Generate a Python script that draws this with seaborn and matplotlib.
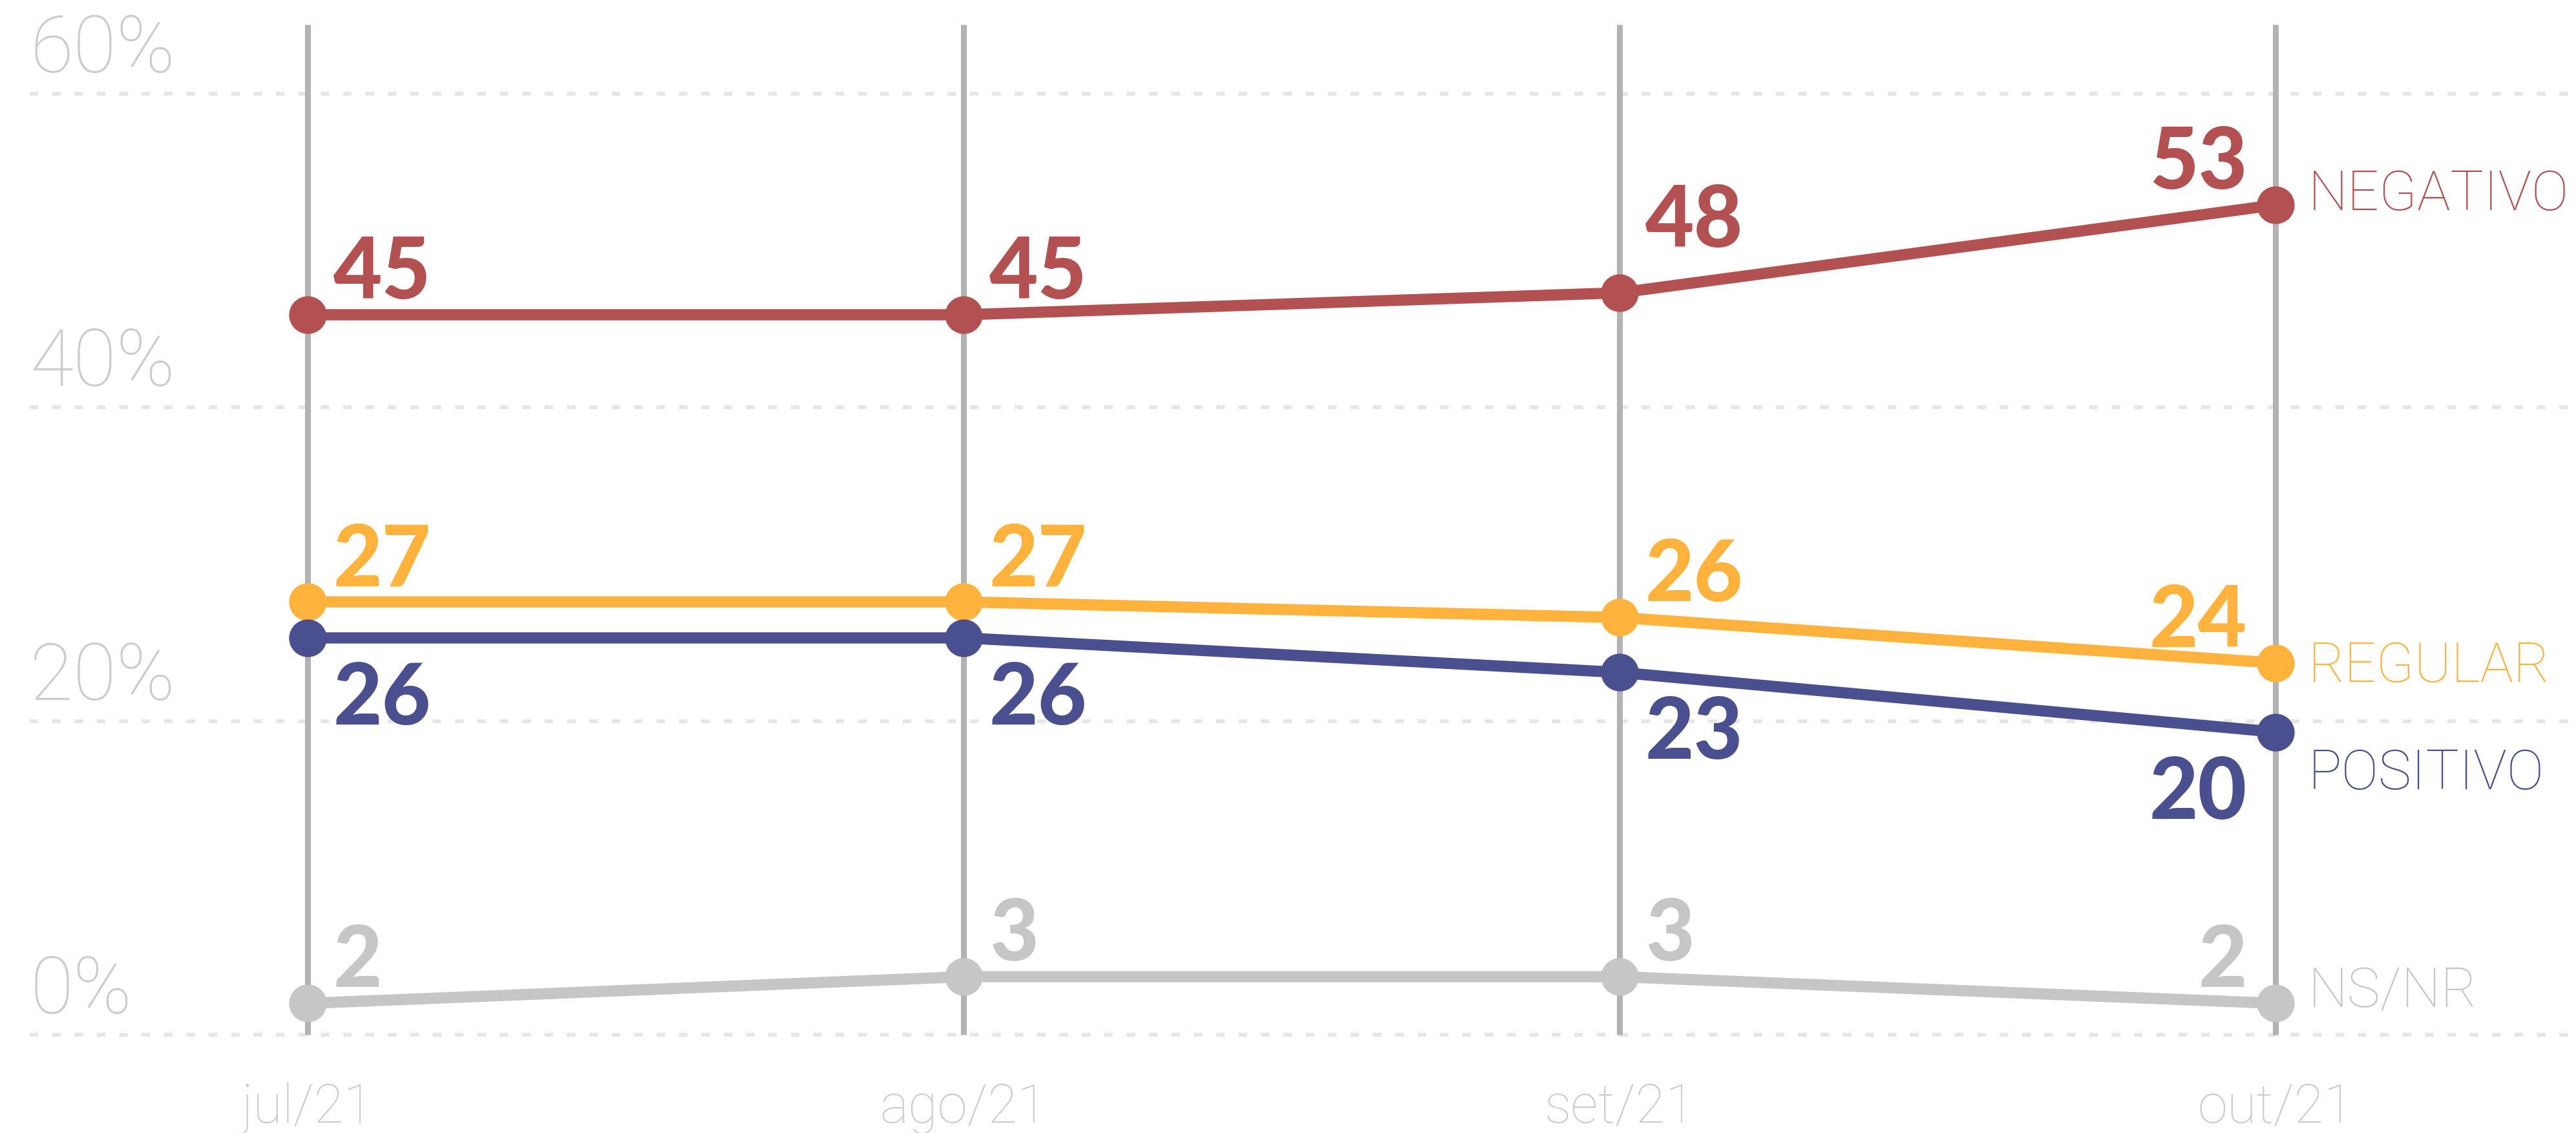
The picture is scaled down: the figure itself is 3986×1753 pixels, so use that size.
import numpy as np
import pandas as pd
import matplotlib
matplotlib.use("Agg")
import matplotlib.pyplot as plt
import seaborn as sns

# -------------------------
# DATA
# -------------------------
months = ['jul/21', 'ago/21', 'set/21', 'out/21']

# plotted positions and the printed labels
negativo = [45.9, 45.9, 47.3, 52.9]
regular = [27.6, 27.6, 26.6, 23.7]
positivo = [25.3, 25.3, 23.1, 19.3]
nsnr = [2.0, 3.7, 3.7, 2.0]

negativo_lbl = [45, 45, 48, 53]
regular_lbl = [27, 27, 26, 24]
positivo_lbl = [26, 26, 23, 20]
nsnr_lbl = [2, 3, 3, 2]

series_names = ['NS/NR', 'REGULAR', 'POSITIVO', 'NEGATIVO']
yticks = [0, 20, 40, 60]

# -------------------------
# STYLE
# -------------------------
sns.set_style('white')
plt.rcParams['font.family'] = ['Lato', 'DejaVu Sans']
LIGHT = ['Roboto', 'DejaVu Sans']

colors = {'NEGATIVO': '#b35152', 'REGULAR': '#ffb23c',
          'POSITIVO': '#4a4f8f', 'NS/NR': '#c6c6c6'}
values = {'NEGATIVO': negativo, 'REGULAR': regular,
          'POSITIVO': positivo, 'NS/NR': nsnr}
labels = {'NEGATIVO': negativo_lbl, 'REGULAR': regular_lbl,
          'POSITIVO': positivo_lbl, 'NS/NR': nsnr_lbl}
below = {'NEGATIVO': False, 'REGULAR': False, 'POSITIVO': True, 'NS/NR': False}
name_dy = {'NEGATIVO': -8, 'REGULAR': -29, 'POSITIVO': -88, 'NS/NR': -6}
zorders = {'NS/NR': 3, 'NEGATIVO': 4, 'REGULAR': 5, 'POSITIVO': 6}
# extra lift for labels that would sit on a rising segment
lift = {('NEGATIVO', 2): 46}

W, H = 3986, 1753
x0, dx = 476, 1015          # pixel position of first month and spacing
y0, dy = 1601, 24.27        # pixel row of 0% and pixels per point

fig = plt.figure(figsize=(W / 100, H / 100), dpi=100)
ax = fig.add_axes([0, 0, 1, 1])
ax.set_xlim(-x0 / dx, (W - x0) / dx)
ax.set_ylim((y0 - H) / dy, y0 / dy)
ax.axis('off')

x = np.arange(len(months))
grid_left = (46 - x0) / dx

# dashed gridlines
ax.hlines(yticks, grid_left, (W - x0) / dx, colors='#e6e6e6', lw=4.3,
          linestyles=(0, (2.2, 3.6)), zorder=0)
# vertical month lines
ax.vlines(x, 0, 64.4, colors='#b3b3b3', lw=6.5, zorder=1)

for t in yticks:
    ax.annotate(f'{t}%', (grid_left, t), xytext=(0, 33), textcoords='offset pixels',
                ha='left', va='baseline', fontsize=88, fontweight='light',
                family=LIGHT, color='#cccccc')

for i, m in enumerate(months):
    ax.text(i, (y0 - 1737) / dy, m, ha='center', va='baseline', fontsize=60,
            fontweight='light', family=LIGHT, color='#cccccc')

# -------------------------
# LINES
# -------------------------
for name in series_names:
    c = colors[name]
    sns.lineplot(x=x, y=values[name], ax=ax, color=c, linewidth=12.5,
                 marker='o', markersize=42, markeredgewidth=0,
                 zorder=zorders[name])
    for i, (v, lab) in enumerate(zip(values[name], labels[name])):
        last = i == len(months) - 1
        ox = -44 if last else 40
        oy = -134 if below[name] else 25 + lift.get((name, i), 0)
        ax.annotate(str(lab), (i, v), xytext=(ox, oy), textcoords='offset pixels',
                    ha='right' if last else 'left', va='baseline',
                    fontsize=94, fontweight='black', color=c, zorder=7)
    ax.annotate(name, (x[-1], values[name][-1]), xytext=(51, name_dy[name]),
                textcoords='offset pixels', ha='left', va='baseline',
                fontsize=62, fontweight='light', family=LIGHT, color=c, zorder=7)

plt.savefig('out.png', dpi=100)
